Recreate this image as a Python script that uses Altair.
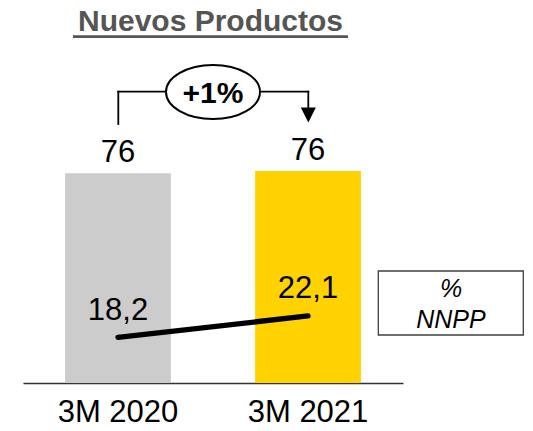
import altair as alt
import pandas as pd

# ---- data ----
categories = ["3M 2020", "3M 2021"]
ventas = [75.6, 76.4]          # bar values (both shown as 76)
nnpp = [18.2, 22.1]            # % NNPP line
bar_colors = ["#CCCCCC", "#FFD200"]
growth_label = "+1%"
title_text = "Nuevos Productos"
legend_lines = ["%", "NNPP"]

FONT = "Liberation Sans"

df = pd.DataFrame({"cat": categories, "ventas": ventas, "nnpp": nnpp})
one = pd.DataFrame({"k": [0]})

x_enc = alt.X(
    "cat:N",
    sort=categories,
    scale=alt.Scale(paddingInner=0.4434, paddingOuter=0.2215),
    axis=alt.Axis(
        title=None, labelAngle=0, labelFont=FONT, labelFontSize=31,
        labelColor="black", ticks=False, tickSize=0, grid=False,
        domainColor="#333333", domainWidth=1.3,
        labelBaseline="alphabetic", labelPadding=38,
    ),
)
y_bar = alt.Y("ventas:Q", scale=alt.Scale(domain=[0, 135.2], nice=False, zero=True), axis=None)
y_line = alt.Y("nnpp:Q", scale=alt.Scale(domain=[9.83, 78.49], nice=False, zero=False), axis=None)

base = alt.Chart(df)

bars = base.mark_bar().encode(
    x=x_enc,
    y=y_bar,
    color=alt.Color("cat:N", scale=alt.Scale(domain=categories, range=bar_colors), legend=None),
)

bar_labels = base.transform_calculate(
    lbl="format(datum.ventas, '.0f')"
).mark_text(font=FONT, fontSize=31, baseline="alphabetic", dy=-11, color="black").encode(
    x=alt.X("cat:N", sort=categories), y=y_bar, text="lbl:N"
)

line = base.mark_line(color="black", strokeWidth=5.3, strokeCap="round").encode(
    x=alt.X("cat:N", sort=categories), y=y_line
)

line_labels = base.transform_calculate(
    lbl="replace(format(datum.nnpp, '.1f'), '.', ',')"
).mark_text(font=FONT, fontSize=31, baseline="alphabetic", dy=-17.5, color="black").encode(
    x=alt.X("cat:N", sort=categories), y=y_line, text="lbl:N"
)

ann = alt.Chart(one)

title = ann.mark_text(
    text=title_text, font=FONT, fontSize=30, fontWeight="bold", color="#555555",
    align="center", baseline="alphabetic",
).encode(x=alt.value(187.5), y=alt.value(22.5))

underline = ann.mark_rule(color="#555555", strokeWidth=2.7).encode(
    x=alt.value(50), x2=alt.value(325), y=alt.value(28.6)
)

left_v = ann.mark_rule(color="black", strokeWidth=1.8, strokeCap="square").encode(
    x=alt.value(95.3), y=alt.value(83.7), y2=alt.value(116)
)
horiz = ann.mark_rule(color="black", strokeWidth=1.8, strokeCap="square").encode(
    x=alt.value(95.3), x2=alt.value(285.3), y=alt.value(83.7)
)
right_v = ann.mark_rule(color="black", strokeWidth=1.8, strokeCap="square").encode(
    x=alt.value(285.3), y=alt.value(83.7), y2=alt.value(100)
)
arrow = ann.mark_point(
    shape="M -1 -1 L 1 -1 L 0 1 Z", size=225, filled=True, fill="black",
    strokeWidth=0, opacity=1,
).encode(x=alt.value(285.3), y=alt.value(107))

r = 27.0 / 47.0
k = 0.5523
ell_path = (
    f"M -1 0 C -1 {-r*k:.4f} {-k} {-r:.4f} 0 {-r:.4f} "
    f"C {k} {-r:.4f} 1 {-r*k:.4f} 1 0 "
    f"C 1 {r*k:.4f} {k} {r:.4f} 0 {r:.4f} "
    f"C {-k} {r:.4f} -1 {r*k:.4f} -1 0 Z"
)
ellipse = ann.mark_point(
    shape=ell_path, size=94 * 94, filled=True, fill="white", stroke="black",
    strokeWidth=2, opacity=1,
).encode(x=alt.value(190), y=alt.value(84))

growth = ann.mark_text(
    text=growth_label, font=FONT, fontSize=30, fontWeight="bold", color="black",
    align="center", baseline="alphabetic",
).encode(x=alt.value(190), y=alt.value(94.7))

legend_box = ann.mark_rect(fill="white", stroke="#404040", strokeWidth=1.3).encode(
    x=alt.value(355.3), x2=alt.value(500.3), y=alt.value(263), y2=alt.value(327)
)
legend_text = ann.mark_text(
    text=legend_lines, font=FONT, fontSize=25, fontStyle="italic", color="black",
    align="center", baseline="alphabetic", lineHeight=30.4,
).encode(x=alt.value(428), y=alt.value(289.3))

chart = alt.layer(
    bars, bar_labels, line, line_labels,
    title, underline, left_v, horiz, right_v, arrow, ellipse, growth,
    legend_box, legend_text,
).resolve_scale(y="independent").properties(
    width=380, height=375,
    padding={"left": 15, "top": 0, "right": 122, "bottom": 40},
    autosize=alt.AutoSizeParams(type="none"),
    background="white",
).configure_view(stroke=None)

chart.save("out.html", embed_options={"renderer": "svg", "actions": False})
